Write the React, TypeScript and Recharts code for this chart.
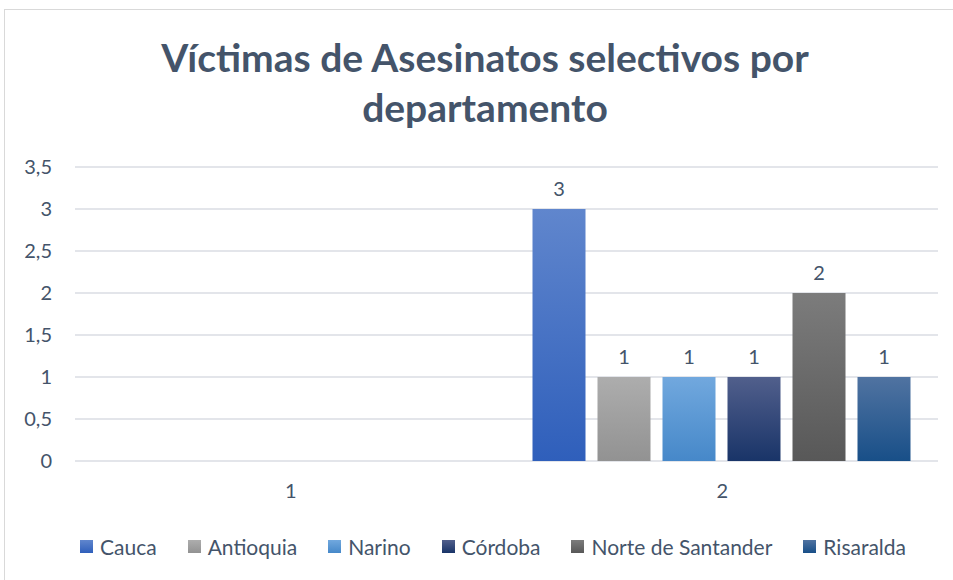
import React from 'react';
import { BarChart, Bar, XAxis, YAxis, CartesianGrid, Legend, LabelList } from 'recharts';

const categories = ['1', '2'];
const cauca = [null, 3];
const antioquia = [null, 1];
const narino = [null, 1];
const cordoba = [null, 1];
const norteSantander = [null, 2];
const risaralda = [null, 1];
const yTicks = [0, 0.5, 1, 1.5, 2, 2.5, 3, 3.5];

const series = [
  { key: 'Cauca', values: cauca, top: '#6086CD', bottom: '#2F5FBB' },
  { key: 'Antioquia', values: antioquia, top: '#ADADAD', bottom: '#929292' },
  { key: 'Narino', values: narino, top: '#71A8DE', bottom: '#4688C9' },
  { key: 'Córdoba', values: cordoba, top: '#515F8C', bottom: '#193468' },
  { key: 'Norte de Santander', values: norteSantander, top: '#7C7C7C', bottom: '#585858' },
  { key: 'Risaralda', values: risaralda, top: '#5073A1', bottom: '#184F88' },
];

const data = categories.map((cat, i) => {
  const row: Record<string, string | number | null> = { cat };
  series.forEach((s) => {
    row[s.key] = s.values[i];
  });
  return row;
});

const FONT = "Lato, 'Noto Sans', sans-serif";
const TEXT = '#44546A';

const LegendBox = () => (
  <div
    style={{
      height: 40,
      display: 'flex',
      justifyContent: 'center',
      alignItems: 'center',
      fontFamily: FONT,
      fontSize: 21,
      color: TEXT,
      paddingLeft: 48,
    }}
  >
    {series.map((s, i) => (
      <div
        key={s.key}
        style={{
          display: 'flex',
          alignItems: 'center',
          marginRight: i === series.length - 1 ? 0 : 31,
        }}
      >
        <span
          style={{
            width: 13,
            height: 13,
            marginRight: 7,
            background: `linear-gradient(${s.top}, ${s.bottom})`,
            display: 'inline-block',
          }}
        />
        <span>{s.key}</span>
      </div>
    ))}
  </div>
);

export default function App() {
  return (
    <div
      style={{
        position: 'fixed',
        left: 0,
        top: 0,
        width: 953,
        height: 580,
        overflow: 'hidden',
        background: '#fff',
      }}
    >
      <div
        style={{
          position: 'absolute',
          left: 4,
          top: 9,
          width: 1000,
          height: 700,
          borderLeft: '1px solid #D9D9D9',
          borderTop: '1px solid #D9D9D9',
        }}
      />
      <div
        style={{
          position: 'absolute',
          left: 4,
          top: 32,
          width: 962,
          textAlign: 'center',
          fontFamily: FONT,
          fontWeight: 700,
          fontSize: 39,
          lineHeight: '50px',
          color: TEXT,
        }}
      >
        <div>Víctimas de Asesinatos selectivos por</div>
        <div>departamento</div>
      </div>
      <div style={{ position: 'absolute', left: 0, top: 0 }}>
        <BarChart
          width={953}
          height={580}
          data={data}
          margin={{ top: 167, right: 15, left: 0, bottom: 14 }}
          barCategoryGap={26}
          barGap={12}
        >
          <defs>
            {series.map((s, i) => (
              <linearGradient key={s.key} id={`grad${i}`} x1="0" y1="0" x2="0" y2="1">
                <stop offset="0%" stopColor={s.top} />
                <stop offset="100%" stopColor={s.bottom} />
              </linearGradient>
            ))}
          </defs>
          <CartesianGrid vertical={false} stroke="#DADDE3" strokeWidth={1.5} />
          <XAxis
            dataKey="cat"
            axisLine={false}
            tickLine={false}
            tickSize={0}
            tickMargin={23}
            height={65}
            tick={{ fill: TEXT, fontSize: 20, fontFamily: FONT }}
          />
          <YAxis
            domain={[0, 3.5]}
            ticks={yTicks}
            interval={0}
            axisLine={false}
            tickLine={false}
            tickSize={0}
            tickMargin={23}
            width={75}
            tickFormatter={(v: number) => String(v).replace('.', ',')}
            tick={{ fill: TEXT, fontSize: 20, fontFamily: FONT }}
          />
          <Legend verticalAlign="bottom" content={() => <LegendBox />} />
          {series.map((s, i) => (
            <Bar key={s.key} dataKey={s.key} fill={`url(#grad${i})`} isAnimationActive={false}>
              <LabelList
                dataKey={s.key}
                position="top"
                offset={13}
                fill={TEXT}
                fontSize={20}
                fontFamily={FONT}
              />
            </Bar>
          ))}
        </BarChart>
      </div>
    </div>
  );
}
